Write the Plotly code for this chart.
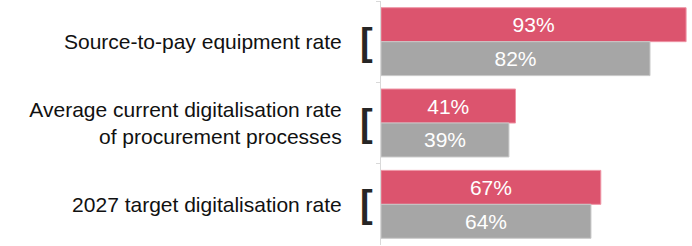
import plotly.graph_objects as go

categories = [
    "Source-to-pay equipment rate",
    "Average current digitalisation rate<br>of procurement processes",
    "2027 target digitalisation rate",
]
series_a = [93, 41, 67]
series_b = [82, 39, 64]
labels_a = [f"{v}%" for v in series_a]
labels_b = [f"{v}%" for v in series_b]

RED = "#DC546E"
GREY = "#A6A6A6"
FONT = "Liberation Sans, Arial, sans-serif"

fig = go.Figure()
fig.add_trace(go.Bar(
    y=categories, x=series_a, orientation="h", name="A",
    marker=dict(color=RED, line=dict(color="#EE93A4", width=1)),
    text=labels_a, textposition="inside", insidetextanchor="middle",
    textfont=dict(color="white", size=21, family=FONT), textangle=0,
    hoverinfo="skip",
))
fig.add_trace(go.Bar(
    y=categories, x=series_b, orientation="h", name="B",
    marker=dict(color=GREY, line=dict(color="#C8C8C8", width=1)),
    text=labels_b, textposition="inside", insidetextanchor="middle",
    textfont=dict(color="white", size=21, family=FONT), textangle=0,
    hoverinfo="skip",
))

for c in categories:
    fig.add_annotation(
        x=0, y=c, xref="x", yref="y", text="<b>[</b>", showarrow=False,
        xanchor="right", yanchor="middle", xshift=-6,
        font=dict(size=38, color="#262626", family=FONT),
    )

fig.update_layout(
    width=692, height=246,
    margin=dict(l=381, r=0, t=1, b=1, autoexpand=False),
    barmode="group", bargap=0.165, bargroupgap=0,
    showlegend=False,
    plot_bgcolor="white", paper_bgcolor="white",
    uniformtext=dict(minsize=8, mode="show"),
    xaxis=dict(range=[0, 94.8], visible=False, fixedrange=True, automargin=False),
    yaxis=dict(
        autorange="reversed", showline=True, linecolor="#D9D9D9", linewidth=1,
        ticks="outside", ticklen=4, tickcolor="#D9D9D9", tickson="boundaries",
        ticklabelstandoff=34, automargin=False,
        tickfont=dict(size=21, color="#111111", family=FONT),
        showgrid=False, zeroline=False,
    ),
)

fig.write_html(
    "out.html",
    config={"displayModeBar": False},
    post_script="document.body.style.margin='0';",
)
